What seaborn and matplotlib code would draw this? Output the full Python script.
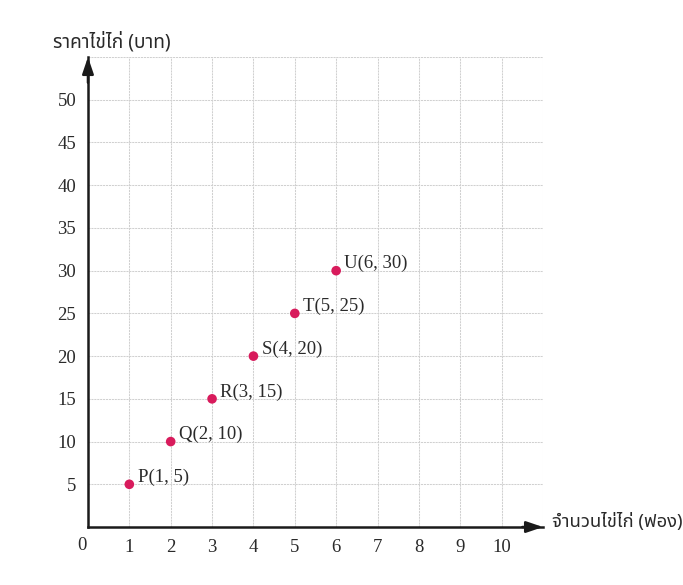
import matplotlib
matplotlib.use("Agg")
import matplotlib.pyplot as plt
import seaborn as sns
import pandas as pd

# Egg count vs. price data
names = ["P", "Q", "R", "S", "T", "U"]
eggs = [1, 2, 3, 4, 5, 6]
price = [5, 10, 15, 20, 25, 30]
x_ticks = [1, 2, 3, 4, 5, 6, 7, 8, 9, 10]
y_ticks = [5, 10, 15, 20, 25, 30, 35, 40, 45, 50]
x_label = "จำนวนไข่ไก่ (ฟอง)"
y_label = "ราคาไข่ไก่ (บาท)"

df = pd.DataFrame({"name": names, "eggs": eggs, "price": price})

sns.set_style("white")
plt.rcParams["font.family"] = ["Liberation Serif", "DejaVu Serif"]
thai = ["Noto Sans Thai", "DejaVu Sans"]
ink = "#2a2a2a"
axis_col = "#1a1a1a"

fig = plt.figure(figsize=(6.83, 5.85), dpi=100)
ax = fig.add_axes([0.1288, 0.0991, 0.6662, 0.8034])

ax.set_xlim(0, 11)
ax.set_ylim(0, 55)

# grid
for gx in range(1, 12):
    ax.axvline(gx, color="#d0d0d0", lw=0.75, ls=(0, (2, 0.8)), zorder=0)
for gy in range(5, 56, 5):
    ax.axhline(gy, color="#d0d0d0", lw=0.75, ls=(0, (2, 0.8)), zorder=0)

sns.scatterplot(data=df, x="eggs", y="price", ax=ax, color="#d81b5c",
                s=48, edgecolor="none", zorder=5, legend=False)

for n, x, y in zip(names, eggs, price):
    ax.text(x + 0.2, y + 0.8, f"{n}({x}, {y})", fontsize=13.5,
            ha="left", va="center", color=ink)

# axes with arrow heads
for s in ["top", "right"]:
    ax.spines[s].set_visible(False)
for s in ["left", "bottom"]:
    ax.spines[s].set_linewidth(1.8)
    ax.spines[s].set_color(axis_col)
arrow = dict(arrowstyle="-|>,head_length=1.0,head_width=0.34", color=axis_col,
             lw=1.8, shrinkA=0, shrinkB=0)
ax.annotate("", xy=(11, 0), xytext=(10.5, 0), arrowprops=arrow, annotation_clip=False)
ax.annotate("", xy=(0, 55), xytext=(0, 52), arrowprops=arrow, annotation_clip=False)

ax.set_xticks(x_ticks)
ax.set_yticks(y_ticks)
ax.tick_params(direction="inout", length=9, width=1.2, color=axis_col,
               labelsize=13.5, labelcolor=ink, pad=4)
ax.set_xlabel("")
ax.set_ylabel("")
ax.text(-0.15, -2.2, "0", fontsize=13.5, ha="center", va="center",
        color=ink, clip_on=False)

fig.text(0.078, 0.928, y_label, family=thai, fontsize=13.8, ha="left", va="center",
         color=ink)
fig.text(0.808, 0.1077, x_label, family=thai, fontsize=13.3, ha="left", va="center",
         color=ink)

fig.savefig("out.png", dpi=100, facecolor="white")
